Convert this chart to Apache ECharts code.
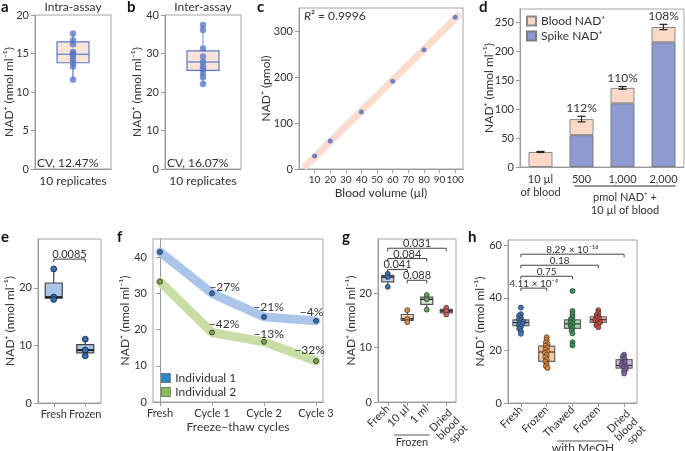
<!DOCTYPE html>
<html><head><meta charset="utf-8">
<script src="https://cdn.jsdelivr.net/npm/echarts@6/dist/echarts.min.js"></script>
<style>html,body{margin:0;padding:0;background:#fff}#c{width:685px;height:451px}</style>
</head><body><div id="c"></div>
<script>
// ---------- DATA ----------
// a: intra-assay
const aCats = ['10 replicates'];
const aPoints = [17.6, 16.7, 16.2, 15.2, 15.0, 14.7, 14.3, 13.8, 13.3, 11.6];
const aBox = [11.6, 13.8, 14.9, 16.5, 17.6]; // min, q1, median, q3, max
// b: inter-assay
const bCats = ['10 replicates'];
const bPoints = [37.4, 36.1, 31.3, 29.2, 27.8, 26.6, 25.9, 24.9, 23.8, 22.1];
const bBox = [22.1, 25.6, 27.8, 30.7, 37.4];
// c: linearity
const cVolume = [10, 20, 40, 60, 80, 100];
const cNad = [28, 61, 124, 191, 259, 330];
const cXTicks = [10, 20, 30, 40, 50, 60, 70, 80, 90, 100];
const cYTicks = [0, 100, 200, 300];
const cFitRange = [3, 103];
// d: spike recovery
const dCats = ['10 µl\nof blood', '500', '1,000', '2,000'];
const dSpike = [null, 55, 110, 215.5];
const dBlood = [26, 27.8, 26.7, 26.4];
const dErr = [0.9, 4.8, 2.3, 4.6];
const dRecovery = ['', '112%', '110%', '108%'];
const dYTicks = [0, 50, 100, 150, 200, 250];
// e: fresh vs frozen
const eCats = ['Fresh', 'Frozen'];
const ePoints = [[23.3, 18.4, 18.0], [11.1, 9.2, 8.2]];
const eBoxes = [[18.0, 18.2, 18.4, 20.85, 23.3], [8.2, 8.7, 9.2, 10.15, 11.1]];
const eBrackets = [[0, 1, 25.0]];
const eBracketLabels = ['0.0085'];
const eYTicks = [0, 10, 20];
// f: freeze-thaw
const fCats = ['Fresh', 'Cycle 1', 'Cycle 2', 'Cycle 3'];
const fInd1 = [41.4, 30.0, 23.5, 22.4];
const fInd2 = [33.2, 19.2, 16.6, 11.3];
const fInd1Pct = ['', '−27%', '−21%', '−4%'];
const fInd2Pct = ['', '−42%', '−13%', '−32%'];
const fYTicks = [0, 10, 20, 30, 40];
// g: storage
const gCats = ['Fresh', '10 µl', '1 ml', 'Dried\nblood\nspot'];
const gPoints = [[23.6, 23.0, 21.2], [16.9, 15.3, 14.7], [19.7, 18.9, 17.0], [17.35, 16.75, 16.1]];
const gBoxes = [[21.2, 22.1, 23.0, 23.3, 23.6], [14.7, 15.0, 15.3, 16.1, 16.9], [17.0, 17.95, 18.9, 19.3, 19.7], [16.1, 16.4, 16.75, 17.05, 17.35]];
const gBrackets = [[0, 3, 28.3], [0, 2, 26.4], [0, 1, 24.4], [1, 2, 22.4]];
const gBracketLabels = ['0.031', '0.084', '0.041', '0.088'];
const gYTicks = [0, 10, 20];
// h: methanol
const hCats = ['Fresh', 'Frozen', 'Thawed', 'Frozen', 'Dried\nblood\nspot'];
const hPoints = [
  [36.3, 33.8, 33.2, 32.4, 31.8, 31.3, 30.9, 30.5, 30.1, 29.6, 29.0, 28.3, 27.3, 26.3],
  [25.0, 24.0, 23.1, 22.4, 21.8, 21.0, 20.3, 19.6, 19.0, 18.2, 17.4, 16.6, 15.8, 14.9, 14.0, 13.3],
  [42.6, 35.0, 33.8, 32.6, 31.9, 31.2, 30.6, 30.0, 29.3, 28.5, 27.6, 26.5, 23.1, 21.9],
  [35.3, 34.2, 33.5, 32.9, 32.4, 32.0, 31.6, 31.2, 30.8, 30.2, 29.6, 28.8],
  [18.4, 17.6, 16.9, 16.3, 15.8, 15.3, 14.8, 14.4, 14.0, 13.5, 12.9, 12.2, 11.2]
];
const hBoxes = [[26.3, 29.4, 30.6, 31.6, 34.5], [13.3, 15.8, 19.4, 21.6, 25.0], [25.5, 28.4, 30.1, 31.6, 35.0], [28.8, 30.7, 31.7, 32.8, 35.3], [11.2, 13.3, 14.3, 16.5, 18.4]];
const hBrackets = [[0, 4, 56.6], [0, 3, 52.4], [0, 2, 48.2], [0, 1, 43.7]];
const hBracketLabels = ['8.29 × 10⁻¹⁶', '0.18', '0.75', '4.11 × 10⁻⁹'];
const hYTicks = [0, 20, 40, 60];

// ---------- STYLE ----------
const F = 'Lato, "Noto Sans", sans-serif';
const TXT = '#333';
const AXC = '#9a9a9a';
const NADNAME = 'NAD⁺ (nmol ml⁻¹)';

const grids = [
  {left: 35, top: 15, width: 76, height: 154},
  {left: 165, top: 15, width: 76, height: 154},
  {left: 299, top: 8, width: 164, height: 161},
  {left: 520, top: 9, width: 164, height: 158},
  {left: 38, top: 239, width: 63, height: 164},
  {left: 153, top: 239, width: 170, height: 163},
  {left: 378, top: 239, width: 78, height: 163},
  {left: 508, top: 240, width: 129, height: 163}
].map(g => Object.assign({show: true, borderColor: '#a5a5a5', borderWidth: 1, containLabel: false, outerBoundsMode: 'none'}, g));

function lbl(extra) { return Object.assign({color: TXT, fontSize: 11, fontFamily: F, margin: 6}, extra || {}); }
function valY(gi, min, max, interval, ticks, nameGap, name) {
  const ax = {
    type: 'value', gridIndex: gi, min, max, interval,
    axisLine: {show: true, lineStyle: {color: AXC}},
    axisTick: {show: true, length: 4, lineStyle: {color: AXC}},
    axisLabel: lbl(),
    splitLine: {show: false},
    name: name || NADNAME, nameLocation: 'middle', nameGap, nameMoveOverlap: false,
    nameTextStyle: {color: TXT, fontSize: 12, fontFamily: F}
  };
  if (ticks) { ax.axisLabel.customValues = ticks; ax.axisTick.customValues = ticks; }
  return ax;
}
function catX(gi, data, labelExtra, extra) {
  return Object.assign({
    type: 'category', gridIndex: gi, data,
    axisLine: {show: true, lineStyle: {color: AXC}},
    axisTick: {show: true, alignWithLabel: true, length: 4, lineStyle: {color: AXC}},
    axisLabel: lbl(Object.assign({interval: 0}, labelExtra || {})),
    splitLine: {show: false}
  }, extra || {});
}

function boxSeries(gi, boxes, width, fills, stroke, medianColor, medianWidth, whiskerColor) {
  return {
    type: 'custom', xAxisIndex: gi, yAxisIndex: gi, z: 2,
    data: boxes.map((b, i) => [i].concat(b)),
    encode: {x: 0, y: [1, 2, 3, 4, 5]},
    renderItem: (params, api) => {
      const i = api.value(0);
      const p = k => api.coord([i, api.value(k)]);
      const lo = p(1), q1 = p(2), md = p(3), q3 = p(4), hi = p(5);
      const x = lo[0], hw = width / 2;
      return {type: 'group', children: [
        {type: 'line', shape: {x1: x, y1: lo[1], x2: x, y2: hi[1]}, style: {stroke: whiskerColor, lineWidth: 1.2}},
        {type: 'rect', shape: {x: x - hw, y: q3[1], width: width, height: q1[1] - q3[1]}, style: {fill: fills[i], stroke: stroke, lineWidth: 1.2}},
        {type: 'line', shape: {x1: x - hw, y1: md[1], x2: x + hw, y2: md[1]}, style: {stroke: medianColor, lineWidth: medianWidth}}
      ]};
    }
  };
}
function pointSeries(gi, groups, colors, size, border, opacity) {
  const data = [];
  groups.forEach((g, i) => g.forEach(v => data.push([i, v])));
  return {
    type: 'scatter', xAxisIndex: gi, yAxisIndex: gi, z: 3, symbolSize: size,
    data,
    itemStyle: {color: p => colors[p.value[0]], borderColor: border || 'rgba(0,0,0,0)', borderWidth: border ? 0.7 : 0, opacity: opacity || 1}
  };
}
function bracketSeries(gi, brackets, labels, tick, fontSize) {
  return {
    type: 'custom', xAxisIndex: gi, yAxisIndex: gi, z: 5,
    data: brackets,
    encode: {x: [0, 1], y: 2},
    renderItem: (params, api) => {
      const a = api.coord([api.value(0), api.value(2)]);
      const b = api.coord([api.value(1), api.value(2)]);
      return {type: 'group', children: [
        {type: 'polyline', shape: {points: [[a[0], a[1] + tick], [a[0], a[1]], [b[0], b[1]], [b[0], b[1] + tick]]}, style: {stroke: '#444', fill: null, lineWidth: 1}},
        {type: 'text', x: (a[0] + b[0]) / 2, y: a[1] + 1, style: {text: labels[params.dataIndex], align: 'center', verticalAlign: 'bottom', fill: TXT, fontSize: fontSize, fontFamily: F}}
      ]};
    }
  };
}

// c fit (least squares)
const cMx = cVolume.reduce((s, v) => s + v, 0) / cVolume.length;
const cMy = cNad.reduce((s, v) => s + v, 0) / cNad.length;
let sxy = 0, sxx = 0;
cVolume.forEach((x, i) => { sxy += (x - cMx) * (cNad[i] - cMy); sxx += (x - cMx) * (x - cMx); });
const cSlope = sxy / sxx, cInt = cMy - cSlope * cMx;
const cFit = cFitRange.map(x => [x, cInt + cSlope * x]);

// f label offsets (style)
const fOff1 = [[0, 0], [13, -6], [5, -9], [-4, -8]];
const fOff2 = [[0, 0], [12.5, -7.5], [5, -7], [-6, -11]];
function fData(vals, pcts, offs) {
  return vals.map((v, i) => ({
    value: [i, v],
    label: {show: !!pcts[i], formatter: pcts[i], position: [offs[i][0] + 2.5, offs[i][1] + 2.5], align: 'center', verticalAlign: 'middle', color: TXT, fontSize: 12, fontFamily: F}
  }));
}

const gFills = ['#b7cdec', '#fbd6b6', '#d8ebcf', '#caa3a2'];
const gPts = ['#3d6fb0', '#d98c4c', '#6b9f58', '#d65a58'];
const hFills = ['#a8c3e8', '#fcc9a2', '#aad5b2', '#f5b2a6', '#c9b9dd'];
const hPts = ['#3a77be', '#e88a36', '#3a9955', '#d8483b', '#8566ab'];

const xAxes = [
  catX(0, aCats, {fontSize: 12, margin: 6}, {axisTick: {show: false}}),
  catX(1, bCats, {fontSize: 12, margin: 6}, {axisTick: {show: false}}),
  {type: 'value', gridIndex: 2, min: 0, max: 105,
   axisLine: {show: true, lineStyle: {color: AXC}},
   axisTick: {show: true, length: 4, lineStyle: {color: AXC}, customValues: cXTicks},
   axisLabel: lbl({customValues: cXTicks, fontSize: 10, showMaxLabel: true, hideOverlap: false}), splitLine: {show: false},
   name: 'Blood volume (µl)', nameLocation: 'middle', nameGap: 18, nameMoveOverlap: false,
   nameTextStyle: {color: TXT, fontSize: 12, fontFamily: F}},
  catX(3, dCats, {fontSize: 11, lineHeight: 13, margin: 6}, {axisTick: {show: false}}),
  catX(4, eCats, {fontSize: 11, margin: 6}),
  {type: 'value', gridIndex: 5, min: -0.135, max: 3.135,
   axisLine: {show: true, lineStyle: {color: AXC}},
   axisTick: {show: true, length: 4, lineStyle: {color: AXC}, customValues: [0, 1, 2, 3]},
   axisLabel: lbl({customValues: [0, 1, 2, 3], formatter: v => fCats[Math.round(v)]}), splitLine: {show: false},
   name: 'Freeze–thaw cycles', nameLocation: 'middle', nameGap: 19, nameMoveOverlap: false,
   nameTextStyle: {color: TXT, fontSize: 12, fontFamily: F}},
  catX(6, gCats.map((c, i) => i === 3 ? {value: c, textStyle: {verticalAlign: 'top'}} : c), {rotate: 45, fontSize: 11, margin: 5, lineHeight: 11}),
  catX(7, hCats.map((c, i) => i === 4 ? {value: c, textStyle: {verticalAlign: 'top'}} : c), {rotate: 45, fontSize: 11, margin: 5, lineHeight: 11},
       {jitter: 8, jitterOverlap: false, jitterMargin: -2.5})
];
const yAxes = [
  valY(0, 0, 20, 5, null, 20),
  valY(1, 0, 40, 10, null, 22),
  valY(2, 0, 350, 100, cYTicks, 27, 'NAD⁺ (pmol)'),
  valY(3, 0, 273, 50, dYTicks, 25),
  valY(4, 0, 28.5, 10, eYTicks, 22),
  valY(5, 0, 45, 10, fYTicks, 22),
  valY(6, 0, 30, 10, gYTicks, 21),
  valY(7, 0, 62, 20, hYTicks, 22)
];

const series = [
  // a
  boxSeries(0, [aBox], 32, ['#fce4d7'], '#5b7ccb', '#5b7ccb', 1.2, '#5b7ccb'),
  pointSeries(0, [aPoints], ['#5574c6'], 6.5, null, 0.75),
  // b
  boxSeries(1, [bBox], 32, ['#fce4d7'], '#5b7ccb', '#5b7ccb', 1.2, '#8aa2da'),
  pointSeries(1, [bPoints], ['#5574c6'], 6.5, null, 0.75),
  // c
  {type: 'line', xAxisIndex: 2, yAxisIndex: 2, data: cFit, symbol: 'none', z: 1,
   lineStyle: {color: '#fcdccc', width: 7}},
  {type: 'scatter', xAxisIndex: 2, yAxisIndex: 2, z: 3, symbolSize: 5,
   data: cVolume.map((x, i) => [x, cNad[i]]), itemStyle: {color: '#4a6cc2'}},
  // d
  {type: 'bar', name: 'Spike NAD⁺', xAxisIndex: 3, yAxisIndex: 3, stack: 'd', barWidth: 24,
   data: dSpike.map(v => v == null ? '-' : v), itemStyle: {color: '#8e9bd3', borderColor: '#7a7a7a', borderWidth: 1}},
  {type: 'bar', name: 'Blood NAD⁺', xAxisIndex: 3, yAxisIndex: 3, stack: 'd', barWidth: 24,
   data: dBlood, itemStyle: {color: '#fbd9c6', borderColor: '#8a8a8a', borderWidth: 1}},
  {type: 'custom', xAxisIndex: 3, yAxisIndex: 3, z: 5,
   data: dCats.map((c, i) => [i, (dSpike[i] || 0) + dBlood[i], dErr[i]]),
   encode: {x: 0, y: 1},
   renderItem: (params, api) => {
     const i = api.value(0), t = api.value(1), e = api.value(2);
     const top = api.coord([i, t + e]), bot = api.coord([i, t - e]);
     const x = top[0];
     return {type: 'group', children: [
       {type: 'line', shape: {x1: x, y1: top[1], x2: x, y2: bot[1]}, style: {stroke: '#222', lineWidth: 1.2}},
       {type: 'line', shape: {x1: x - 4, y1: top[1], x2: x + 4, y2: top[1]}, style: {stroke: '#222', lineWidth: 1.2}},
       {type: 'line', shape: {x1: x - 4, y1: bot[1], x2: x + 4, y2: bot[1]}, style: {stroke: '#222', lineWidth: 1.2}},
       {type: 'text', x: x, y: top[1] - 2, style: {text: dRecovery[params.dataIndex], align: 'center', verticalAlign: 'bottom', fill: TXT, fontSize: 12, fontFamily: F}}
     ]};
   }},
  // e
  boxSeries(4, eBoxes, 17, ['#a9c5e9', '#a9c5e9'], '#444', '#1e1e1e', 2, '#444'),
  pointSeries(4, ePoints, ['#2f6eb3', '#2f6eb3'], 6, '#1a1a1a'),
  bracketSeries(4, eBrackets, eBracketLabels, 3, 11),
  // f
  {type: 'line', name: 'Individual 1', xAxisIndex: 5, yAxisIndex: 5, z: 2,
   data: fData(fInd1, fInd1Pct, fOff1), symbol: 'circle', symbolSize: 5,
   lineStyle: {color: '#abc5ea', width: 9, cap: 'round', join: 'round'},
   itemStyle: {color: '#2e74bb', borderColor: '#1d1d1d', borderWidth: 0.7}},
  {type: 'line', name: 'Individual 2', xAxisIndex: 5, yAxisIndex: 5, z: 2,
   data: fData(fInd2, fInd2Pct, fOff2), symbol: 'circle', symbolSize: 5,
   lineStyle: {color: '#c9dea6', width: 9, cap: 'round', join: 'round'},
   itemStyle: {color: '#7ea44a', borderColor: '#1d1d1d', borderWidth: 0.7}},
  // g
  boxSeries(6, gBoxes, 12, gFills, '#555', '#222', 1.5, '#555'),
  pointSeries(6, gPoints, gPts, 5, '#333'),
  bracketSeries(6, gBrackets, gBracketLabels, 3, 11),
  // h
  boxSeries(7, hBoxes, 16, hFills, '#666', '#333', 1.2, '#555'),
  pointSeries(7, hPoints, hPts, 5, '#333'),
  bracketSeries(7, hBrackets, hBracketLabels, 3, 10)
];

const legends = [
  {left: 526, top: 15, orient: 'vertical', itemWidth: 9, itemHeight: 9, itemGap: 3, padding: 0, icon: 'rect',
   data: ['Blood NAD⁺', 'Spike NAD⁺'], textStyle: {color: TXT, fontSize: 12, fontFamily: F, lineHeight: 10}, selectedMode: false},
  {left: 161, top: 372, orient: 'vertical', itemWidth: 9, itemHeight: 9, itemGap: 2, padding: 0, icon: 'rect',
   data: [{name: 'Individual 1', itemStyle: {color: '#2f87c8', borderColor: '#555', borderWidth: 0.7}},
          {name: 'Individual 2', itemStyle: {color: '#8dbd58', borderColor: '#555', borderWidth: 0.7}}],
   textStyle: {color: TXT, fontSize: 12, fontFamily: F, lineHeight: 10}, selectedMode: false}
];

function t(text, x, y, o) {
  return Object.assign({type: 'text', x, y, style: Object.assign({text, fill: TXT, fontSize: 12, fontFamily: F}, (o && o.style) || {})}, o ? {z: 10} : {});
}
const bold = {style: {fontSize: 15, fontWeight: 'bold', fill: '#111', fontFamily: 'Lato, sans-serif'}};
const graphics = [
  t('a', 1, 0, bold), t('b', 127, 0, bold), t('c', 257, 0, bold), t('d', 479, 0, bold),
  t('e', 1, 230, bold), t('f', 117, 230, bold), t('g', 342, 230, bold), t('h', 468, 230, bold),
  t('Intra-assay', 73, 7, {style: {align: 'center', verticalAlign: 'middle'}}),
  t('Inter-assay', 203, 7, {style: {align: 'center', verticalAlign: 'middle'}}),
  t('CV, 12.47%', 37, 163, {style: {verticalAlign: 'middle'}}),
  t('CV, 16.07%', 167, 163, {style: {verticalAlign: 'middle'}}),
  {type: 'text', x: 304, y: 16, z: 10, style: {rich: {i: {fontStyle: 'italic', fontSize: 12, fontFamily: F, fill: TXT}, n: {fontSize: 12, fontFamily: F, fill: TXT}},
     text: '{i|R}{n|² = 0.9996}', verticalAlign: 'middle'}}
];

const chart = echarts.init(document.getElementById('c'), null, {renderer: 'canvas'});
chart.setOption({
  animation: false,
  textStyle: {fontFamily: F},
  grid: grids, xAxis: xAxes, yAxis: yAxes, series, legend: legends, graphic: graphics
});

// group annotations under category labels, located through the axes
function px(gi, cat) { return chart.convertToPixel({gridIndex: gi}, [cat, 0]); }
const extra = [];
(function () {
  const d1 = px(3, 1), d3 = px(3, 3), d0 = px(3, 0);
  const y = d0[1] + 19;
  extra.push({type: 'line', shape: {x1: d1[0] - 7, y1: y, x2: d3[0] + 12, y2: y}, style: {stroke: '#333', lineWidth: 1}});
  const cx = (d1[0] - 7 + d3[0] + 12) / 2;
  extra.push(t('pmol NAD⁺ +', cx, y + 11, {style: {align: 'center', verticalAlign: 'middle', fontSize: 11}}));
  extra.push(t('10 µl of blood', cx, y + 24, {style: {align: 'center', verticalAlign: 'middle', fontSize: 11}}));
  const g1 = px(6, 1), g2 = px(6, 2);
  const gy = g1[1] + 33;
  extra.push({type: 'line', shape: {x1: g1[0] - 13, y1: gy, x2: g2[0] + 3, y2: gy}, style: {stroke: '#555', lineWidth: 1}});
  extra.push(t('Frozen', (g1[0] - 13 + g2[0] + 3) / 2, gy + 7, {style: {align: 'center', verticalAlign: 'middle', fontSize: 11}}));
  const h2 = px(7, 2), h3 = px(7, 3);
  const hy = h2[1] + 38;
  extra.push({type: 'line', shape: {x1: h2[0] - 15, y1: hy, x2: h3[0] + 10, y2: hy}, style: {stroke: '#555', lineWidth: 1}});
  extra.push(t('with MeOH', (h2[0] - 15 + h3[0] + 10) / 2, hy + 7, {style: {align: 'center', verticalAlign: 'middle', fontSize: 12}}));
})();
chart.setOption({graphic: graphics.concat(extra)}, {replaceMerge: ['graphic']});
</script>
</body></html>
